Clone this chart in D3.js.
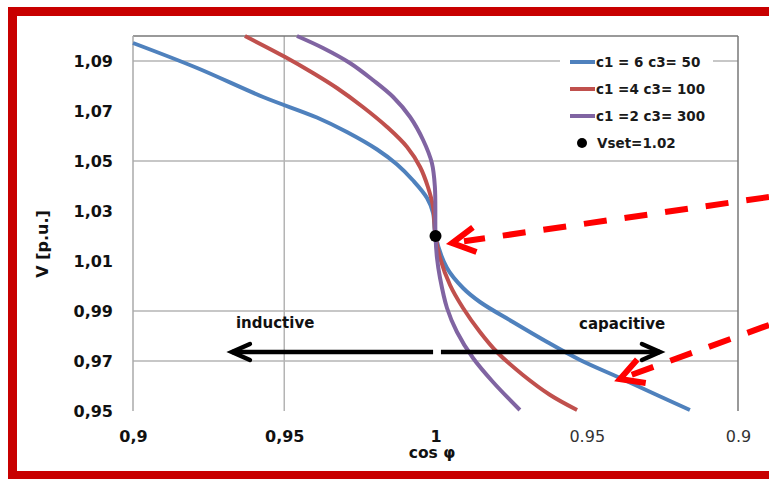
<!DOCTYPE html>
<html>
<head>
<meta charset="utf-8">
<script src="https://cdn.jsdelivr.net/npm/d3@7"></script>
<style>
  body { margin: 0; background: #fff; }
  svg { display: block; }
</style>
</head>
<body>
<svg></svg>
<script>
// cos phi axis: negative side = inductive, positive side = capacitive (distance from 1)
let xTicks = [-0.1, -0.05, 0, 0.05, 0.1];
let xTickLabels = ["0,9", "0,95", "1", "0.95", "0.9"];
let yTicks = [1.09, 1.07, 1.05, 1.03, 1.01, 0.99, 0.97, 0.95];
let yTickLabels = ["1,09", "1,07", "1,05", "1,03", "1,01", "0,99", "0,97", "0,95"];
let yGrid = [1.09, 1.05, 0.99, 0.97];
let xGrid = [-0.05];

let seriesNames = ["c1 = 6 c3= 50", "c1 =4 c3= 100", "c1 =2 c3= 300"];
let seriesColors = ["#4f81bd", "#c0504d", "#8064a2"];

// [q, V]
let blue = [[-0.1, 1.0972], [-0.0788, 1.0872], [-0.057, 1.0756],
  [-0.0392, 1.0674], [-0.0293, 1.0616], [-0.0193, 1.0546], [-0.0127, 1.0486],
  [-0.0074, 1.0422], [-0.0028, 1.0352], [-0.0008, 1.0292], [0, 1.02],
  [0.0038, 1.0072], [0.0091, 0.9992], [0.0147, 0.9936], [0.0256, 0.9856], [0.0369, 0.9776],
  [0.0478, 0.9704], [0.061, 0.9632], [0.0732, 0.9564], [0.0841, 0.9504]];
let red = [[-0.063, 1.1], [-0.0497, 1.0916], [-0.0405, 1.0852], [-0.0326, 1.0792],
  [-0.024, 1.0716], [-0.016, 1.0636], [-0.0094, 1.0556], [-0.0051, 1.0476], [-0.0025, 1.0396],
  [-0.0008, 1.0316], [0, 1.02], [0.0015, 1.0112], [0.0048, 1.0004], [0.0091, 0.9912],
  [0.0147, 0.9816], [0.0203, 0.9736], [0.0289, 0.9644], [0.0379, 0.9564], [0.0468, 0.9504]];
let purple = [[-0.0458, 1.1], [-0.0372, 1.0952], [-0.0283, 1.0892], [-0.0207, 1.0824], [-0.014, 1.0756],
  [-0.0084, 1.0676], [-0.0041, 1.0584], [-0.0012, 1.0492], [-0.0002, 1.0396], [0, 1.02],
  [0.0005, 1.0112], [0.0015, 1.0032], [0.0038, 0.9912], [0.0071, 0.9816], [0.0124, 0.9712],
  [0.019, 0.9616], [0.0279, 0.9504]];
let series = [blue, red, purple];

let vset = [0, 1.02];

let svgWidth = 769;
let svgHeight = 479;

let svg = d3.select("svg")
  .attr("width", svgWidth)
  .attr("height", svgHeight);

// red frame (open on the right)
svg.append("rect").attr("x", 8).attr("y", 7).attr("width", svgWidth - 8).attr("height", 9).attr("fill", "#c80000");
svg.append("rect").attr("x", 8).attr("y", 7).attr("width", 9).attr("height", svgHeight - 7).attr("fill", "#c80000");
svg.append("rect").attr("x", 8).attr("y", 471).attr("width", svgWidth - 8).attr("height", 8).attr("fill", "#c80000");

let x = d3.scaleLinear().domain([-0.1, 0.1]).range([133, 738]);
let y = d3.scaleLinear().domain([0.95, 1.10]).range([411, 36]);

// grid
svg.selectAll(".hgrid").data(yGrid).enter().append("line")
  .attr("x1", x(-0.1)).attr("x2", x(0.1))
  .attr("y1", d => y(d)).attr("y2", d => y(d))
  .attr("stroke", "#b4b4b4").attr("stroke-width", 1.5);
svg.selectAll(".vgrid").data(xGrid).enter().append("line")
  .attr("x1", d => x(d)).attr("x2", d => x(d))
  .attr("y1", y(1.10)).attr("y2", y(0.95))
  .attr("stroke", "#b4b4b4").attr("stroke-width", 1.5);

// plot borders
svg.append("line").attr("x1", x(-0.1)).attr("x2", x(0.1)).attr("y1", y(1.10)).attr("y2", y(1.10))
  .attr("stroke", "#777").attr("stroke-width", 1.5);
svg.append("line").attr("x1", x(0.1)).attr("x2", x(0.1)).attr("y1", y(1.10)).attr("y2", y(0.95))
  .attr("stroke", "#777").attr("stroke-width", 1.5);
svg.append("line").attr("x1", x(-0.1)).attr("x2", x(-0.1)).attr("y1", y(1.10)).attr("y2", y(0.95))
  .attr("stroke", "#aaa").attr("stroke-width", 1.5);

// legend background
svg.append("rect").attr("x", 560).attr("y", 48).attr("width", 153).attr("height", 108).attr("fill", "#fff");

// axes
let yAxis = svg.append("g")
  .attr("transform", "translate(" + x(-0.1) + ",0)")
  .call(d3.axisLeft(y).tickValues(yTicks).tickSize(0).tickPadding(20)
    .tickFormat((d, i) => yTickLabels[i]));
yAxis.select(".domain").remove();
yAxis.selectAll("text")
  .attr("font-family", "DejaVu Sans").attr("font-weight", "bold").attr("font-size", 16)
  .attr("fill", "#111").attr("dy", "0.36em");

let xAxis = svg.append("g")
  .attr("transform", "translate(0," + y(0.95) + ")")
  .call(d3.axisBottom(x).tickValues(xTicks).tickSize(0)
    .tickFormat((d, i) => xTickLabels[i]));
xAxis.select(".domain").remove();
xAxis.selectAll("text")
  .attr("y", 25).attr("dy", "0.36em")
  .attr("font-family", "DejaVu Sans").attr("font-size", 16)
  .attr("font-weight", (d, i) => i < 3 ? "bold" : "normal")
  .attr("fill", (d, i) => i < 3 ? "#111" : "#333");

svg.append("text").text("cos φ")
  .attr("x", 432).attr("y", 458).attr("text-anchor", "middle")
  .attr("font-family", "DejaVu Sans").attr("font-weight", "bold").attr("font-size", 15.5).attr("fill", "#111");
svg.append("text").text("V [p.u.]")
  .attr("transform", "translate(48,244) rotate(-90)").attr("text-anchor", "middle")
  .attr("font-family", "DejaVu Sans").attr("font-weight", "bold").attr("font-size", 16).attr("fill", "#111");

// curves
let line = d3.line().x(d => x(d[0])).y(d => y(d[1])).curve(d3.curveCatmullRom.alpha(0.5));
svg.append("g").selectAll("path").data(series).enter().append("path")
  .attr("d", line)
  .attr("fill", "none")
  .attr("stroke", (d, i) => seriesColors[i])
  .attr("stroke-width", 4);

svg.append("circle").attr("cx", x(vset[0])).attr("cy", y(vset[1])).attr("r", 6).attr("fill", "#000");

// black direction arrows
let blackArrows = [[-0.0008, -0.0673], [0.0018, 0.0742]];
let arrowV = 0.9736;
blackArrows.forEach(a => {
  let x0 = x(a[0]), x1 = x(a[1]), yy = y(arrowV), s = Math.sign(x1 - x0);
  svg.append("line").attr("x1", x0).attr("x2", x1).attr("y1", yy).attr("y2", yy)
    .attr("stroke", "#000").attr("stroke-width", 4.5);
  svg.append("path")
    .attr("d", "M" + (x1 - s * 18) + "," + (yy - 8) + "L" + x1 + "," + yy + "L" + (x1 - s * 18) + "," + (yy + 8))
    .attr("fill", "none").attr("stroke", "#000").attr("stroke-width", 4.5)
    .attr("stroke-linejoin", "miter").attr("stroke-linecap", "round");
});
svg.append("text").text("inductive").attr("x", x(-0.053)).attr("y", y(0.9852)).attr("dy", "0.36em")
  .attr("text-anchor", "middle").attr("font-family", "DejaVu Sans").attr("font-weight", "bold")
  .attr("font-size", 15).attr("fill", "#111");
svg.append("text").text("capacitive").attr("x", x(0.0617)).attr("y", y(0.9848)).attr("dy", "0.36em")
  .attr("text-anchor", "middle").attr("font-family", "DejaVu Sans").attr("font-weight", "bold")
  .attr("font-size", 15).attr("fill", "#111");

// red dashed pointers: tip in data units, tail at the right edge
let pointers = [[0.0055, 1.0172, 197], [0.061, 0.9628, 325]];
pointers.forEach(p => {
  let tx = x(p[0]), ty = y(p[1]), ex = svgWidth, ey = p[2];
  let ang = Math.atan2(ey - ty, ex - tx);
  svg.append("line").attr("x1", ex).attr("y1", ey).attr("x2", tx + 12 * Math.cos(ang)).attr("y2", ty + 12 * Math.sin(ang))
    .attr("stroke", "#ff0000").attr("stroke-width", 6).attr("stroke-dasharray", "23,18");
  let a1 = ang - 0.5, a2 = ang + 0.5;
  svg.append("path")
    .attr("d", "M" + (tx + 26 * Math.cos(a1)) + "," + (ty + 26 * Math.sin(a1)) + "L" + tx + "," + ty +
      "L" + (tx + 26 * Math.cos(a2)) + "," + (ty + 26 * Math.sin(a2)))
    .attr("fill", "none").attr("stroke", "#ff0000").attr("stroke-width", 6)
    .attr("stroke-linejoin", "miter");
});

// legend
let legendY = [62, 89, 116, 143];
let legend = svg.append("g");
seriesNames.forEach((n, i) => {
  legend.append("line").attr("x1", 570).attr("x2", 595).attr("y1", legendY[i]).attr("y2", legendY[i])
    .attr("stroke", seriesColors[i]).attr("stroke-width", 4);
  legend.append("text").text(n).attr("x", 596).attr("y", legendY[i]).attr("dy", "0.36em")
    .attr("font-family", "DejaVu Sans").attr("font-weight", "bold").attr("font-size", 13.5).attr("fill", "#1a1a1a");
});
legend.append("circle").attr("cx", 582).attr("cy", legendY[3]).attr("r", 5).attr("fill", "#000");
legend.append("text").text("Vset=1.02").attr("x", 597).attr("y", legendY[3]).attr("dy", "0.36em")
  .attr("font-family", "DejaVu Sans").attr("font-weight", "bold").attr("font-size", 13.5).attr("fill", "#1a1a1a");
</script>
</body>
</html>
